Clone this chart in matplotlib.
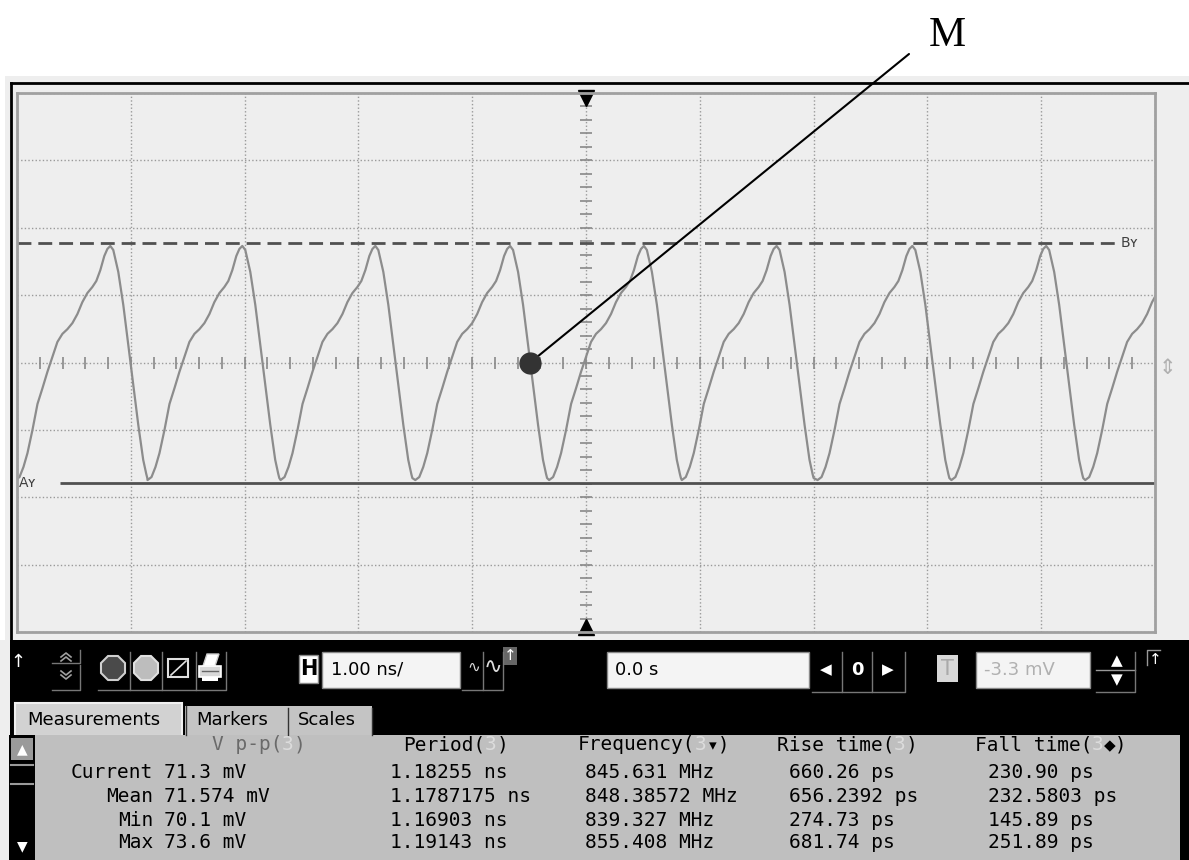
import numpy as np
import matplotlib.pyplot as plt
from matplotlib.patches import Rectangle, RegularPolygon, Polygon

# Scope settings: 1 ns/div horizontally, 20 mV/div vertically
t_min, t_max = -5, 5
v_min, v_max = -80, 80

# One period of the waveform, relative to its peak (ns, mV)
cycle_dt = [-0.833, -0.798, -0.763, -0.728, -0.684, -0.640, -0.596, -0.553,
            -0.509, -0.465, -0.421, -0.377, -0.333, -0.289, -0.246, -0.202,
            -0.158, -0.123, -0.088, -0.053, -0.026, 0.0, 0.026, 0.070,
            0.114, 0.158, 0.202, 0.246, 0.289, 0.316, 0.325]
cycle_mv = [-34.9, -34.0, -31.0, -26.9, -20.0, -12.3, -7.6, -2.8,
            1.6, 6.1, 8.5, 9.9, 11.7, 14.4, 17.9, 20.6,
            22.4, 24.2, 27.4, 31.6, 33.7, 34.6, 33.4, 26.9,
            17.1, 5.2, -6.7, -18.6, -28.9, -33.1, -34.3]
# Peak positions of each cycle on screen (ns)
peak_times = [-5.36, -4.18, -3.02, -1.851, -0.667, 0.509, 1.675, 2.868, 4.044, 5.22]

# Cursors
by_level = 35.5
ay_level = -35.8
m_time, m_level = -0.49, 0.0

# Measurements table
row_names = ['Current', 'Mean', 'Min', 'Max']
col_names = ['V p-p', 'Period', 'Frequency', 'Rise time', 'Fall time']
col_marks = ['', '', '\u25be', '', '\u25c6']
vpp = ['71.3 mV', '71.574 mV', '70.1 mV', '73.6 mV']
period = ['1.18255 ns', '1.1787175 ns', '1.16903 ns', '1.19143 ns']
freq = ['845.631 MHz', '848.38572 MHz', '839.327 MHz', '855.408 MHz']
rise = ['660.26 ps', '656.2392 ps', '274.73 ps', '681.74 ps']
fall = ['230.90 ps', '232.5803 ps', '145.89 ps', '251.89 ps']
columns = [vpp, period, freq, rise, fall]

W, H = 1189, 860
fig = plt.figure(figsize=(W / 100, H / 100), dpi=100)
fig.patch.set_facecolor('white')

# ---- window chrome, drawn in pixel coordinates ----
ui = fig.add_axes([0, 0, 1, 1], zorder=0)
ui.set_xlim(0, W)
ui.set_ylim(H, 0)
ui.axis('off')

ui.add_patch(Rectangle((5, 76), W - 5, 564, fc='#eeeeee', ec='none'))
ui.plot([11, W], [83, 83], color='black', lw=2)
ui.plot([11, 11], [83, 640], color='black', lw=2)
ui.add_patch(Rectangle((0, 640), 10, 220, fc='#eeeeee', ec='none'))
ui.add_patch(Rectangle((10, 640), W - 10, 220, fc='black', ec='none'))

# trigger level glyph at the right edge
ui.text(1167, 368, '\u21d5', color='#b0b0b0', fontsize=15, ha='center', va='center')

# control strip
mono = 'DejaVu Sans Mono'
ui.text(18, 662, '\u2191', color='white', fontsize=13, ha='center', va='center')
ui.plot([52, 80, 80], [663, 663, 650], color='#777777', lw=1)
ui.plot([52, 80, 80], [690, 690, 665], color='#777777', lw=1)
for yc, d in [(655, -1), (659, -1), (673, 1), (677, 1)]:
    ui.plot([61, 66, 71], [yc - 2 * d, yc + 2 * d, yc - 2 * d], color='#a0a0a0', lw=1.2)
ui.add_patch(RegularPolygon((113, 668), 8, radius=13, orientation=np.pi / 8,
                            fc='#4a4a4a', ec='#cfcfcf', lw=1.5))
ui.add_patch(RegularPolygon((146, 668), 8, radius=13, orientation=np.pi / 8,
                            fc='#bdbdbd', ec='#e0e0e0', lw=1.5))
ui.add_patch(Rectangle((168, 659), 20, 18, fc='black', ec='#e0e0e0', lw=1.5))
ui.plot([171, 186], [675, 661], color='#e0e0e0', lw=1.2)
# printer icon
ui.add_patch(Polygon([[203, 666], [207, 654], [219, 654], [215, 666]],
                     closed=True, fc='white', ec='#cccccc', lw=1))
ui.add_patch(Rectangle((199, 666), 22, 11, fc='#d8d8d8', ec='white', lw=1.2))
ui.plot([202, 218], [671, 671], color='#666666', lw=1)
ui.add_patch(Rectangle((202, 677), 16, 4, fc='white', ec='none'))
for x0, x1 in [(98, 130), (130, 162), (162, 196), (196, 226)]:
    ui.plot([x0, x1, x1], [690, 690, 652], color='#777777', lw=1)

ui.add_patch(Rectangle((299, 655), 19, 28, fc='white', ec='#888888', lw=1))
ui.text(308.5, 669, 'H', color='black', fontsize=15, fontweight='bold',
        ha='center', va='center')
ui.add_patch(Rectangle((322, 652), 138, 36, fc='#f4f4f4', ec='#888888', lw=1))
ui.text(331, 670, '1.00 ns/', color='black', fontsize=13, va='center')
ui.text(474, 667, '\u223f', color='#dddddd', fontsize=11, ha='center', va='center')
ui.text(493, 667, '\u223f', color='#dddddd', fontsize=16, ha='center', va='center')
for x0, x1 in [(462, 483), (483, 503)]:
    ui.plot([x0, x1, x1], [690, 690, 652], color='#777777', lw=1)
ui.add_patch(Rectangle((503, 647), 14, 18, fc='#666666', ec='none'))
ui.text(510, 656, '\u2191', color='white', fontsize=11, ha='center', va='center')

ui.add_patch(Rectangle((607, 652), 202, 36, fc='#f4f4f4', ec='#888888', lw=1))
ui.text(615, 670, '0.0 s', color='black', fontsize=13, va='center')
ui.text(826, 670, '\u25c0', color='white', fontsize=11, ha='center', va='center')
ui.text(857, 670, '0', color='white', fontsize=13, fontweight='bold',
        ha='center', va='center')
ui.text(888, 670, '\u25b6', color='white', fontsize=11, ha='center', va='center')
for x0, x1 in [(812, 842), (842, 872), (872, 905)]:
    ui.plot([x0, x1, x1], [692, 692, 652], color='#777777', lw=1)

ui.add_patch(Rectangle((937, 655), 21, 27, fc='#d8d8d8', ec='none'))
ui.text(947.5, 669, 'T', color='#aaaaaa', fontsize=15, ha='center', va='center')
ui.add_patch(Rectangle((976, 652), 114, 36, fc='#f4f4f4', ec='#888888', lw=1))
ui.text(984, 670, '-3.3 mV', color='#b0b0b0', fontsize=13, va='center')
ui.text(1117, 661, '\u25b2', color='white', fontsize=11, ha='center', va='center')
ui.text(1117, 680, '\u25bc', color='white', fontsize=11, ha='center', va='center')
ui.plot([1096, 1135], [670, 670], color='#999999', lw=1)
ui.plot([1096, 1135, 1135], [692, 692, 652], color='#777777', lw=1)
ui.plot([1147, 1147, 1160], [665, 650, 650], color='#999999', lw=1)
ui.text(1155, 660, '\u2191', color='white', fontsize=11, ha='center', va='center')

# tabs
ui.add_patch(Rectangle((15, 703), 167, 33, fc='#d2d2d2', ec='#f0f0f0', lw=1.5))
ui.add_patch(Rectangle((185, 706), 187, 30, fc='#c4c4c4', ec='none'))
ui.plot([186, 186], [706, 735], color='#333333', lw=1)
ui.plot([288, 288], [708, 735], color='#333333', lw=1)
ui.plot([372, 372], [708, 735], color='#333333', lw=1)
ui.text(27, 720, 'Measurements', color='black', fontsize=13, va='center')
ui.text(196, 720, 'Markers', color='black', fontsize=13, va='center')
ui.text(298, 720, 'Scales', color='black', fontsize=13, va='center')

# measurement table
ui.add_patch(Rectangle((35, 735), 1145, 125, fc='#bfbfbf', ec='none'))
ui.add_patch(Rectangle((9, 735), 26, 125, fc='black', ec='none'))
ui.add_patch(Rectangle((11, 738), 22, 22, fc='#9a9a9a', ec='none'))
ui.text(22, 749, '\u25b2', color='white', fontsize=10, ha='center', va='center')
ui.plot([11, 33], [765, 765], color='#9a9a9a', lw=1.5)
ui.plot([11, 33], [784, 784], color='#9a9a9a', lw=1.5)
ui.text(22, 846, '\u25bc', color='white', fontsize=10, ha='center', va='center')
ui.add_patch(Rectangle((1181, 738), 8, 28, fc='black', ec='none'))

fs_tab = 14
cw = fs_tab * 0.602 * 100 / 72
header_x = [212, 403, 578, 777, 975]
value_x = [164, 390, 585, 789, 988]
header_y = 745
row_y = [773, 797, 820, 843]

for name, mark, hx in zip(col_names, col_marks, header_x):
    colour = '#6a6a6a' if name == 'V p-p' else 'black'
    ui.text(hx, header_y, name + '(', color=colour, fontsize=fs_tab,
            family=mono, va='center')
    cx = hx + (len(name) + 1) * cw
    ui.text(cx, header_y, '3', color='#dcdcdc', fontsize=fs_tab,
            family=mono, va='center')
    ui.text(cx + cw, header_y, mark + ')', color=colour, fontsize=fs_tab,
            family=[mono, 'DejaVu Sans'], va='center')

for i, rname in enumerate(row_names):
    ui.text(153, row_y[i], rname, color='black', fontsize=fs_tab, family=mono,
            ha='right', va='center')
    for col, vx in zip(columns, value_x):
        ui.text(vx, row_y[i], col[i], color='black', fontsize=fs_tab,
                family=mono, va='center')

# ---- scope graticule and trace ----
ax = fig.add_axes([17 / W, 1 - 632 / H, (1155 - 17) / W, (632 - 93) / H], zorder=2)
ax.set_facecolor('#eeeeee')
ax.set_xlim(t_min, t_max)
ax.set_ylim(v_min, v_max)
ax.set_xticks(np.arange(t_min, t_max + 1, 1))
ax.set_yticks(np.arange(v_min, v_max + 1, 20))
ax.tick_params(length=0, labelbottom=False, labelleft=False)
ax.grid(True, color='#9a9a9a', linestyle=(0, (1, 1.6)), lw=1)
for s in ax.spines.values():
    s.set_color('#a0a0a0')
    s.set_linewidth(2)

# minor ticks along the centre axes
h_ticks = np.arange(t_min + 0.2, t_max - 0.1, 0.2)
v_ticks = np.arange(v_min + 4, v_max - 2, 4)
ax.plot(h_ticks, np.zeros(len(h_ticks)), ls='none',
        marker='|', ms=8, mew=1.2, color='#888888')
ax.plot(np.zeros(len(v_ticks)), v_ticks, ls='none',
        marker='_', ms=8, mew=1.2, color='#888888')
ax.plot([0], [v_max - 1.5], marker='v', ms=11, color='black', clip_on=False)
ax.plot([0], [v_min + 1.5], marker='^', ms=11, color='black', clip_on=False)

# cursors
ax.hlines(by_level, t_min, 4.68, colors='#505050', lw=2, linestyles=(0, (5, 2.5)))
ax.text(4.7, by_level, 'B\u028f', color='#404040', fontsize=10, va='center')
ax.hlines(ay_level, -4.62, t_max, colors='#505050', lw=2)
ax.text(-4.98, ay_level, 'A\u028f', color='#404040', fontsize=10, va='center')

# waveform
trace_t = np.concatenate([p + np.array(cycle_dt) for p in peak_times])
trace_v = np.tile(cycle_mv, len(peak_times))
ax.plot(trace_t, trace_v, color='#8c8c8c', lw=1.6)

# point M and its leader
ax.plot([m_time], [m_level], 'o', ms=15, color='#333333', zorder=5)
ax.annotate('', xy=(m_time, m_level), xytext=(909 / W, 1 - 54 / H),
            textcoords='figure fraction', annotation_clip=False,
            arrowprops=dict(arrowstyle='-', color='black', lw=1.5,
                            shrinkA=0, shrinkB=0))
fig.text(947 / W, 1 - 36 / H, 'M', family='Liberation Serif', fontsize=30,
         ha='center', va='center', color='black')

fig.savefig('out.png', dpi=100)
